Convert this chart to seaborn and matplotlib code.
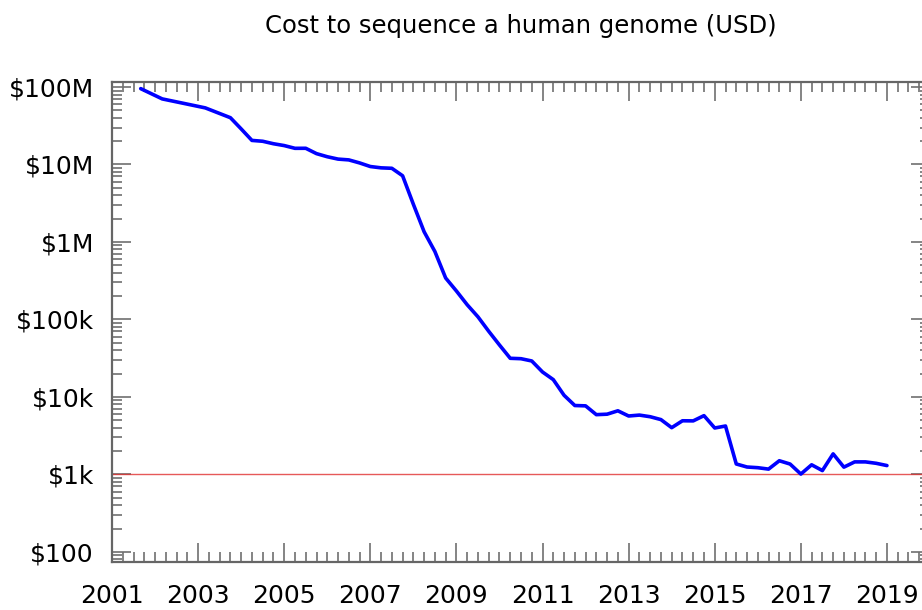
import pandas as pd
import numpy as np
import matplotlib
matplotlib.use("Agg")
import matplotlib.pyplot as plt
import matplotlib.ticker as mticker
import seaborn as sns

# NHGRI cost per genome (USD), quarterly
dates = [
    "2001-09", "2002-03", "2002-09", "2003-03", "2003-10",
    "2004-01", "2004-04", "2004-07", "2004-10",
    "2005-01", "2005-04", "2005-07", "2005-10",
    "2006-01", "2006-04", "2006-07", "2006-10",
    "2007-01", "2007-04", "2007-07", "2007-10",
    "2008-01", "2008-04", "2008-07", "2008-10",
    "2009-01", "2009-04", "2009-07", "2009-10",
    "2010-01", "2010-04", "2010-07", "2010-10",
    "2011-01", "2011-04", "2011-07", "2011-10",
    "2012-01", "2012-04", "2012-07", "2012-10",
    "2013-01", "2013-04", "2013-07", "2013-10",
    "2014-01", "2014-04", "2014-07", "2014-10",
    "2015-01", "2015-04", "2015-07", "2015-10",
    "2016-01", "2016-04", "2016-07", "2016-10",
    "2017-01", "2017-04", "2017-07", "2017-10",
    "2018-01", "2018-04", "2018-07", "2018-10",
    "2019-01",
]
cost = [
    95263072, 70175437, 61448422, 53751684, 40153553,
    28780376, 20442576, 19934346, 18519312,
    17534970, 16159699, 16180224, 13801124,
    12585659, 11732535, 11455315, 10474556,
    9408739, 9047003, 8927342, 7147571,
    3063820, 1352982, 752080, 342502,
    232735, 154714, 108065, 70333,
    46774, 31512, 31125, 29092,
    20963, 16712, 10497, 7743,
    7666, 5901, 5985, 6618,
    5671, 5826, 5550, 5096,
    4008, 4920, 4905, 5731,
    3970, 4211, 1363, 1245,
    1220, 1170, 1500, 1360,
    1010, 1330, 1120, 1840,
    1240, 1450, 1450, 1390,
    1300,
]
ytick_vals = [1e2, 1e3, 1e4, 1e5, 1e6, 1e7, 1e8]
ytick_labels = ["$100", "$1k", "$10k", "$100k", "$1M", "$10M", "$100M"]
xtick_years = list(range(2001, 2020, 2))
target_cost = 1000

d = pd.to_datetime(dates, format="%Y-%m")
df = pd.DataFrame({"year": d.year + (d.month - 1) / 12, "cost": cost})

sns.set_style("ticks")
plt.rcParams['font.family'] = ['DejaVu Sans']
plt.rcParams['text.color'] = 'black'

fig = plt.figure(figsize=(9.22, 6.10), dpi=100)
ax = fig.add_axes([112 / 922, 48 / 610, 818 / 922, 480 / 610])

sns.lineplot(data=df, x="year", y="cost", color="#0000ff", linewidth=2.6, ax=ax)
ax.axhline(target_cost, color="#e03030", linewidth=1.0, alpha=0.8, zorder=1)

ax.set_yscale("log")
ax.set_xlim(2001, 2020)
ax.set_ylim(74, 1.16e8)

ax.yaxis.set_major_locator(mticker.FixedLocator(ytick_vals))
ax.yaxis.set_major_formatter(mticker.FixedFormatter(ytick_labels))
ax.yaxis.set_minor_locator(mticker.LogLocator(base=10, subs=np.arange(2, 10), numticks=20))
ax.yaxis.set_minor_formatter(mticker.NullFormatter())
ax.xaxis.set_major_locator(mticker.FixedLocator(xtick_years))
ax.xaxis.set_major_formatter(mticker.FormatStrFormatter("%d"))
ax.xaxis.set_minor_locator(mticker.MultipleLocator(0.25))

ax.tick_params(which="both", direction="in", top=True, right=True,
               color="#707070", width=1.2)
ax.tick_params(which="major", length=13.5, labelsize=18, labelcolor="black")
ax.tick_params(axis="y", which="major", pad=13)
ax.tick_params(axis="x", which="major", pad=16)
ax.tick_params(which="minor", length=7)

for s in ax.spines.values():
    s.set_color("#666666")
    s.set_linewidth(1.6)
    s.set_visible(True)

ax.set_xlabel("")
ax.set_ylabel("")
ax.set_title("Cost to sequence a human genome (USD)", fontsize=17.5,
             color="black", pad=35)

plt.savefig("out.png", dpi=100)
plt.close()
